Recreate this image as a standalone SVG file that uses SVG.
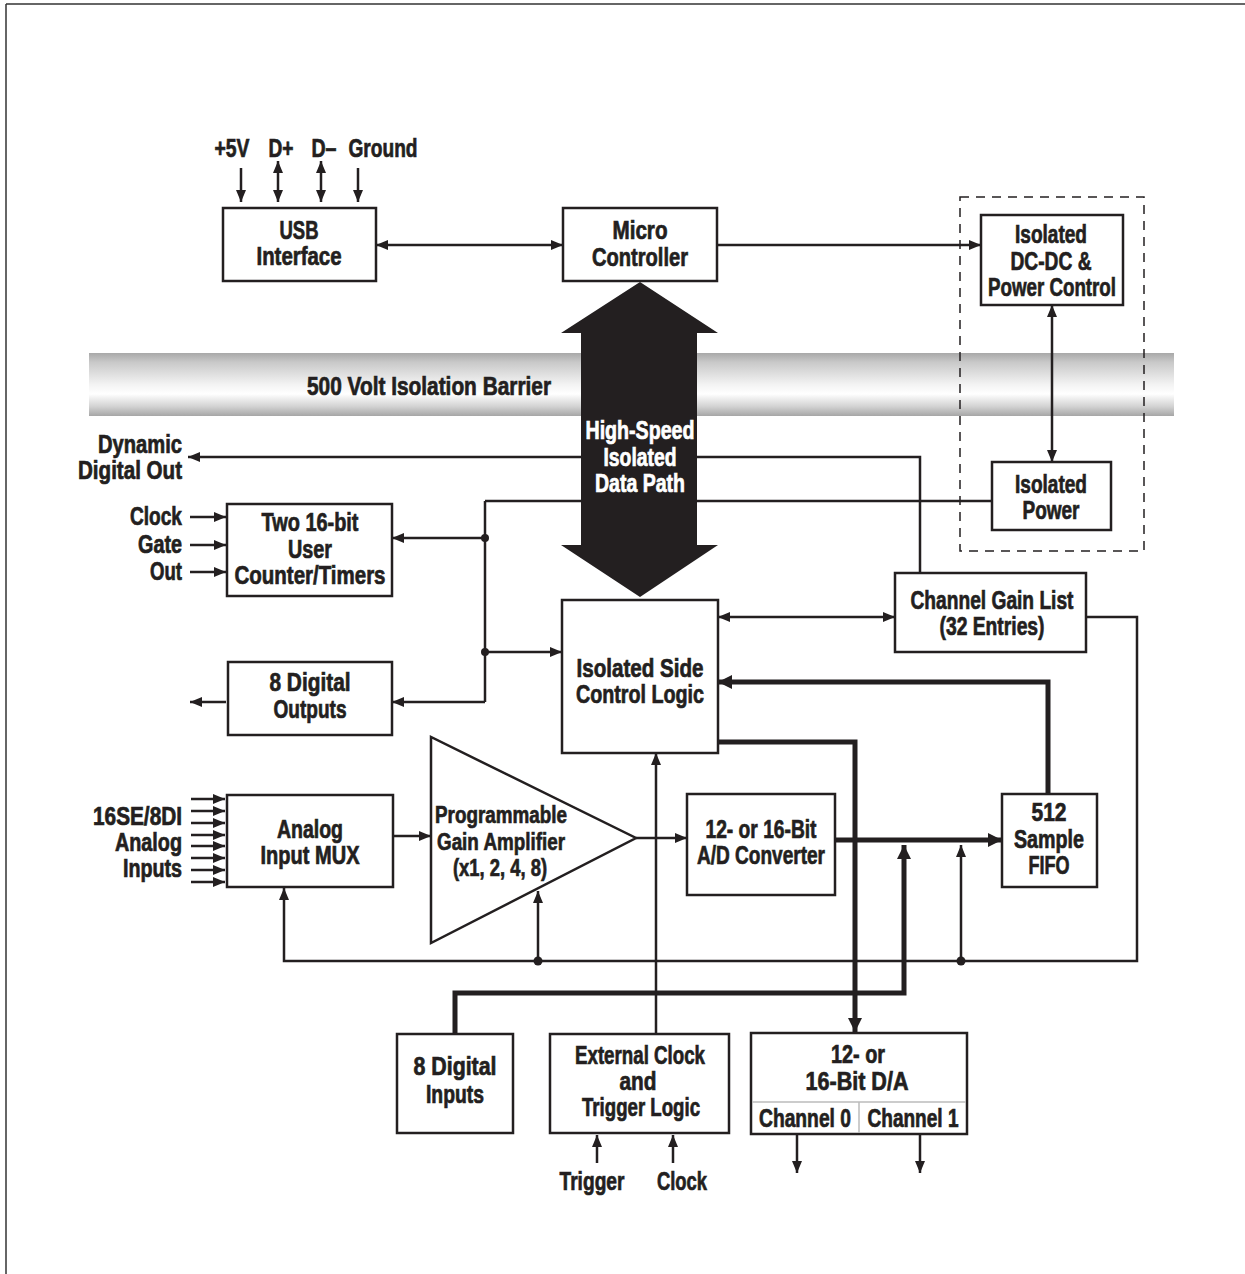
<svg xmlns="http://www.w3.org/2000/svg" width="1245" height="1274" viewBox="0 0 1245 1274">
<defs>
<linearGradient id="bar" x1="0" y1="0" x2="0" y2="1">
<stop offset="0" stop-color="#a8a8a8"/>
<stop offset="0.15" stop-color="#c9c9c9"/>
<stop offset="0.5" stop-color="#f3f3f3"/>
<stop offset="0.65" stop-color="#ffffff"/>
<stop offset="0.85" stop-color="#d2d2d2"/>
<stop offset="1" stop-color="#a6a6a6"/>
</linearGradient>
<marker id="ah" viewBox="0 0 12 10" refX="12" refY="5" markerWidth="12" markerHeight="10" orient="auto-start-reverse" markerUnits="userSpaceOnUse"><path d="M0,0 L12,5 L0,10 z" fill="#231f20"/></marker>
<marker id="ahT" viewBox="0 0 14 14" refX="14" refY="7" markerWidth="14" markerHeight="14" orient="auto-start-reverse" markerUnits="userSpaceOnUse"><path d="M0,0 L14,7 L0,14 z" fill="#231f20"/></marker>
</defs>
<style>
.t{font-family:"Liberation Sans",Arial,sans-serif;font-weight:bold;font-size:25px;fill:#231f20;stroke:#231f20;stroke-width:0.7;text-anchor:middle}
.s{font-size:24px}
.r{text-anchor:end}
.w{fill:#ffffff;stroke:#ffffff}
.box{fill:#ffffff;stroke:#231f20;stroke-width:2.5}
.ln{fill:none;stroke:#231f20;stroke-width:2.5}
.th{fill:none;stroke:#231f20;stroke-width:5}
.a{marker-end:url(#ah)}
.a2{marker-start:url(#ah);marker-end:url(#ah)}
.at{marker-end:url(#ahT)}
.dot{fill:#231f20}
</style>
<g id="frame">
<line x1="6" y1="4" x2="1245" y2="4" stroke="#333" stroke-width="1.5"/>
<line x1="6" y1="4" x2="6" y2="1274" stroke="#333" stroke-width="1.5"/>
</g>
<g id="barrier">
<rect x="89" y="353" width="1085" height="63" fill="url(#bar)"/>
<text class="t" x="429" y="395" textLength="244" lengthAdjust="spacingAndGlyphs">500 Volt Isolation Barrier</text>
</g>
<g id="isolation-boundary">
<rect x="960" y="197" width="184" height="354" fill="none" stroke="#231f20" stroke-width="1.5" stroke-dasharray="9,7"/>
</g>
<g id="connectors">
<line class="ln a" x1="241" y1="168" x2="241" y2="202"/>
<line class="ln a2" x1="278" y1="161" x2="278" y2="202"/>
<line class="ln a2" x1="321" y1="161" x2="321" y2="202"/>
<line class="ln a" x1="358" y1="168" x2="358" y2="202"/>
<line class="ln a2" x1="376" y1="245" x2="563" y2="245"/>
<line class="ln a" x1="717" y1="245" x2="981" y2="245"/>
<line class="ln a2" x1="1052" y1="305" x2="1052" y2="462"/>
<polyline class="ln a" points="920,573 920,457 188,457"/>
<line class="ln" x1="485" y1="501" x2="992" y2="501"/>
<line class="ln" x1="485" y1="501" x2="485" y2="702"/>
<line class="ln a" x1="485" y1="538" x2="392" y2="538"/>
<line class="ln a" x1="485" y1="702" x2="392" y2="702"/>
<line class="ln a" x1="485" y1="652" x2="562" y2="652"/>
<line class="ln a" x1="226" y1="702" x2="190" y2="702"/>
<line class="ln a" x1="190" y1="517" x2="226" y2="517"/>
<line class="ln a" x1="190" y1="545" x2="226" y2="545"/>
<line class="ln a" x1="190" y1="572" x2="226" y2="572"/>
<line class="ln a" x1="191" y1="799" x2="225" y2="799"/>
<line class="ln a" x1="191" y1="811" x2="225" y2="811"/>
<line class="ln a" x1="191" y1="823" x2="225" y2="823"/>
<line class="ln a" x1="191" y1="835" x2="225" y2="835"/>
<line class="ln a" x1="191" y1="846" x2="225" y2="846"/>
<line class="ln a" x1="191" y1="858" x2="225" y2="858"/>
<line class="ln a" x1="191" y1="870" x2="225" y2="870"/>
<line class="ln a" x1="191" y1="882" x2="225" y2="882"/>
<line class="ln a" x1="393" y1="836" x2="431" y2="836"/>
<line class="ln a" x1="636" y1="838" x2="687" y2="838"/>
<line class="ln a2" x1="718" y1="617" x2="895" y2="617"/>
<polyline class="ln a" points="1086,617 1137,617 1137,961 284,961 284,888"/>
<line class="ln a" x1="538" y1="961" x2="538" y2="891"/>
<line class="ln a" x1="961" y1="961" x2="961" y2="845"/>
<line class="ln a" x1="656" y1="1034" x2="656" y2="753"/>
<polyline class="th at" points="1048,794 1048,682 718,682"/>
<polyline class="th at" points="718,742 855,742 855,1032"/>
<line class="th at" x1="835" y1="840" x2="1002" y2="840"/>
<polyline class="th at" points="455,1034 455,993 904,993 904,845"/>
<line class="ln a" x1="597" y1="1163" x2="597" y2="1135"/>
<line class="ln a" x1="673" y1="1163" x2="673" y2="1135"/>
<line class="ln a" x1="797" y1="1134" x2="797" y2="1173"/>
<line class="ln a" x1="920" y1="1134" x2="920" y2="1173"/>
<circle class="dot" cx="485" cy="538" r="4"/>
<circle class="dot" cx="485" cy="652" r="4"/>
<circle class="dot" cx="538" cy="961" r="4.5"/>
<circle class="dot" cx="961" cy="961" r="4.5"/>
</g>
<g id="data-path">
<path d="M640,282 L718,333 L697,333 L697,545 L718,545 L640,597 L561,545 L581,545 L581,333 L561,333 Z" fill="#231f20"/>
<text class="t w" x="640" y="439" textLength="109" lengthAdjust="spacingAndGlyphs">High-Speed</text>
<text class="t w" x="640" y="466" textLength="73" lengthAdjust="spacingAndGlyphs">Isolated</text>
<text class="t w" x="640" y="492" textLength="90" lengthAdjust="spacingAndGlyphs">Data Path</text>
</g>
<g id="usb-signals">
<text class="t" x="232" y="157" textLength="35" lengthAdjust="spacingAndGlyphs">+5V</text>
<text class="t" x="281" y="157" textLength="25" lengthAdjust="spacingAndGlyphs">D+</text>
<text class="t" x="324" y="157" textLength="25" lengthAdjust="spacingAndGlyphs">D–</text>
<text class="t" x="383" y="157" textLength="69" lengthAdjust="spacingAndGlyphs">Ground</text>
</g>
<g id="usb">
<rect class="box" x="223" y="208" width="153" height="73"/>
<text class="t" x="299" y="239" textLength="39" lengthAdjust="spacingAndGlyphs">USB</text>
<text class="t" x="299" y="265" textLength="85" lengthAdjust="spacingAndGlyphs">Interface</text>
</g>
<g id="micro">
<rect class="box" x="563" y="208" width="154" height="73"/>
<text class="t" x="640" y="239" textLength="55" lengthAdjust="spacingAndGlyphs">Micro</text>
<text class="t" x="640" y="266" textLength="96" lengthAdjust="spacingAndGlyphs">Controller</text>
</g>
<g id="dcdc">
<rect class="box" x="981" y="215" width="142" height="90"/>
<text class="t" x="1051" y="243" textLength="72" lengthAdjust="spacingAndGlyphs">Isolated</text>
<text class="t" x="1051" y="270" textLength="81" lengthAdjust="spacingAndGlyphs">DC-DC &amp;</text>
<text class="t" x="1052" y="296" textLength="128" lengthAdjust="spacingAndGlyphs">Power Control</text>
</g>
<g id="isopower">
<rect class="box" x="992" y="462" width="119" height="68"/>
<text class="t" x="1051" y="493" textLength="72" lengthAdjust="spacingAndGlyphs">Isolated</text>
<text class="t" x="1051" y="519" textLength="57" lengthAdjust="spacingAndGlyphs">Power</text>
</g>
<g id="dyn-out">
<text class="t r" x="182" y="453" textLength="84" lengthAdjust="spacingAndGlyphs">Dynamic</text>
<text class="t r" x="182" y="479" textLength="104" lengthAdjust="spacingAndGlyphs">Digital Out</text>
</g>
<g id="counter-signals">
<text class="t r" x="182" y="525" textLength="52" lengthAdjust="spacingAndGlyphs">Clock</text>
<text class="t r" x="182" y="553" textLength="44" lengthAdjust="spacingAndGlyphs">Gate</text>
<text class="t r" x="182" y="580" textLength="32" lengthAdjust="spacingAndGlyphs">Out</text>
</g>
<g id="counters">
<rect class="box" x="227" y="504" width="165" height="92"/>
<text class="t" x="310" y="531" textLength="97" lengthAdjust="spacingAndGlyphs">Two 16-bit</text>
<text class="t" x="310" y="558" textLength="44" lengthAdjust="spacingAndGlyphs">User</text>
<text class="t" x="310" y="584" textLength="151" lengthAdjust="spacingAndGlyphs">Counter/Timers</text>
</g>
<g id="dout">
<rect class="box" x="228" y="662" width="164" height="73"/>
<text class="t" x="310" y="691" textLength="81" lengthAdjust="spacingAndGlyphs">8 Digital</text>
<text class="t" x="310" y="718" textLength="73" lengthAdjust="spacingAndGlyphs">Outputs</text>
</g>
<g id="control">
<rect class="box" x="562" y="600" width="156" height="153"/>
<text class="t" x="640" y="677" textLength="127" lengthAdjust="spacingAndGlyphs">Isolated Side</text>
<text class="t" x="640" y="703" textLength="128" lengthAdjust="spacingAndGlyphs">Control Logic</text>
</g>
<g id="cgl">
<rect class="box" x="895" y="573" width="191" height="79"/>
<text class="t" x="992" y="609" textLength="163" lengthAdjust="spacingAndGlyphs">Channel Gain List</text>
<text class="t" x="992" y="635" textLength="105" lengthAdjust="spacingAndGlyphs">(32 Entries)</text>
</g>
<g id="ain-label">
<text class="t r" x="182" y="825" textLength="89" lengthAdjust="spacingAndGlyphs">16SE/8DI</text>
<text class="t r" x="182" y="851" textLength="67" lengthAdjust="spacingAndGlyphs">Analog</text>
<text class="t r" x="182" y="877" textLength="59" lengthAdjust="spacingAndGlyphs">Inputs</text>
</g>
<g id="mux">
<rect class="box" x="227" y="795" width="166" height="92"/>
<text class="t" x="310" y="838" textLength="66" lengthAdjust="spacingAndGlyphs">Analog</text>
<text class="t" x="310" y="864" textLength="99" lengthAdjust="spacingAndGlyphs">Input MUX</text>
</g>
<g id="pga">
<polygon points="431,737 431,943 636,838" fill="#ffffff" stroke="#231f20" stroke-width="2.5"/>
<text class="t s" x="501" y="823" textLength="132" lengthAdjust="spacingAndGlyphs">Programmable</text>
<text class="t s" x="501" y="850" textLength="128" lengthAdjust="spacingAndGlyphs">Gain Amplifier</text>
<text class="t s" x="500" y="876" textLength="94" lengthAdjust="spacingAndGlyphs">(x1, 2, 4, 8)</text>
</g>
<g id="adc">
<rect class="box" x="687" y="794" width="148" height="101"/>
<text class="t" x="761" y="838" textLength="111" lengthAdjust="spacingAndGlyphs">12- or 16-Bit</text>
<text class="t" x="761" y="864" textLength="128" lengthAdjust="spacingAndGlyphs">A/D Converter</text>
</g>
<g id="fifo">
<rect class="box" x="1002" y="794" width="95" height="93"/>
<text class="t" x="1049" y="821" textLength="35" lengthAdjust="spacingAndGlyphs">512</text>
<text class="t" x="1049" y="848" textLength="70" lengthAdjust="spacingAndGlyphs">Sample</text>
<text class="t" x="1049" y="874" textLength="41" lengthAdjust="spacingAndGlyphs">FIFO</text>
</g>
<g id="din">
<rect class="box" x="397" y="1034" width="116" height="99"/>
<text class="t" x="455" y="1075" textLength="83" lengthAdjust="spacingAndGlyphs">8 Digital</text>
<text class="t" x="455" y="1103" textLength="58" lengthAdjust="spacingAndGlyphs">Inputs</text>
</g>
<g id="extclk">
<rect class="box" x="550" y="1034" width="179" height="99"/>
<text class="t" x="640" y="1064" textLength="130" lengthAdjust="spacingAndGlyphs">External Clock</text>
<text class="t" x="638" y="1090" textLength="37" lengthAdjust="spacingAndGlyphs">and</text>
<text class="t" x="641" y="1116" textLength="118" lengthAdjust="spacingAndGlyphs">Trigger Logic</text>
</g>
<g id="trig-labels">
<text class="t" x="592" y="1190" textLength="65" lengthAdjust="spacingAndGlyphs">Trigger</text>
<text class="t" x="682" y="1190" textLength="50" lengthAdjust="spacingAndGlyphs">Clock</text>
</g>
<g id="dac">
<rect class="box" x="751" y="1033" width="216" height="101"/>
<line x1="752" y1="1102" x2="966" y2="1102" stroke="#bbbbbb" stroke-width="1.5"/>
<line x1="859" y1="1102" x2="859" y2="1133" stroke="#bbbbbb" stroke-width="1.5"/>
<text class="t" x="858" y="1063" textLength="54" lengthAdjust="spacingAndGlyphs">12- or</text>
<text class="t" x="857" y="1090" textLength="103" lengthAdjust="spacingAndGlyphs">16-Bit D/A</text>
<text class="t" x="805" y="1127" textLength="92" lengthAdjust="spacingAndGlyphs">Channel 0</text>
<text class="t" x="913" y="1127" textLength="91" lengthAdjust="spacingAndGlyphs">Channel 1</text>
</g>
</svg>
